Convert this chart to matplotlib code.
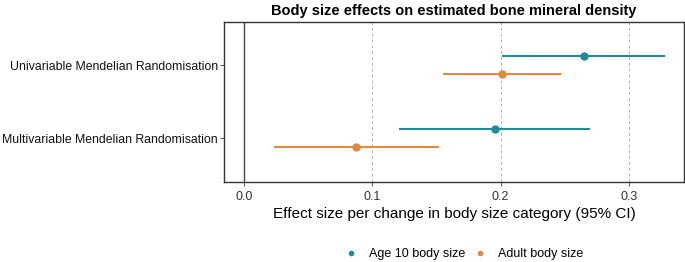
import numpy as np
import matplotlib.pyplot as plt
from matplotlib.lines import Line2D

# data
methods = ["Univariable Mendelian Randomisation", "Multivariable Mendelian Randomisation"]
groups = ["Age 10 body size", "Adult body size"]
est = {"Age 10 body size": [0.265, 0.196], "Adult body size": [0.201, 0.0875]}
lo = {"Age 10 body size": [0.201, 0.121], "Adult body size": [0.155, 0.0234]}
hi = {"Age 10 body size": [0.328, 0.270], "Adult body size": [0.247, 0.152]}
colors = {"Age 10 body size": "#1f8a99", "Adult body size": "#e08a3a"}
xticks = [0.0, 0.1, 0.2, 0.3]

plt.rcParams['font.family'] = ['Liberation Sans', 'DejaVu Sans']

fig = plt.figure(figsize=(6.85, 2.62), dpi=100)
ax = fig.add_axes([224 / 685, 1 - 182 / 262, 460 / 685, 160 / 262])

ypos = np.array([2, 1])
offs = {"Age 10 body size": 0.125, "Adult body size": -0.125}
for g in groups:
    y = ypos + offs[g]
    ax.hlines(y, lo[g], hi[g], color=colors[g], lw=1.5, zorder=3)
    ax.plot(est[g], y, 'o', color=colors[g], ms=5, zorder=4)

ax.axvline(0, color='#444444', lw=1, zorder=2)
for t in xticks[1:]:
    ax.axvline(t, color='#b0b0b0', lw=0.7, ls=(0, (3, 3)), zorder=1)

ax.set_xlim(-0.0156, 0.343)
ax.set_ylim(0.40, 2.59)
ax.set_xticks(xticks)
ax.set_xticklabels(["0.0", "0.1", "0.2", "0.3"], fontsize=9, color='#333333')
ax.set_yticks(ypos)
ax.set_yticklabels(methods, fontsize=8.8, color='#111111')
ax.tick_params(length=3, color='#333333', width=0.6)
ax.tick_params(axis='y', pad=1.5)
for s in ax.spines.values():
    s.set_color('#333333')
    s.set_linewidth(1)

ax.set_xlabel("Effect size per change in body size category (95% CI)", fontsize=11, labelpad=3)
ax.set_title("Body size effects on estimated bone mineral density", fontsize=10.5,
             fontweight='bold', pad=5)

handles = [Line2D([], [], marker='o', ls='', color=colors[g], ms=3, label=g) for g in groups]
fig.legend(handles=handles, loc='center', bbox_to_anchor=(464 / 685, 1 - 254 / 262), ncol=2,
           frameon=False, fontsize=9, handlelength=1.0, handletextpad=0.9,
           columnspacing=0.7, borderpad=0)

plt.savefig("out.png", dpi=100)
